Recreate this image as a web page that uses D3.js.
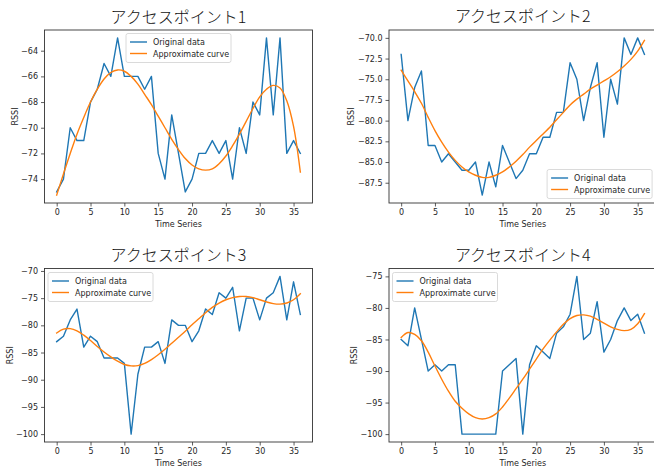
<!DOCTYPE html>
<html>
<head>
<meta charset="utf-8">
<script src="https://cdn.jsdelivr.net/npm/d3@7"></script>
<style>
  body { margin: 0; background: #fff; }
  svg { display: block; font-family: "DejaVu Sans", sans-serif; }
</style>
</head>
<body>
<svg id="chart" width="654" height="470"></svg>
<script>
// Sample index along the time axis
const timeSeries = [0,1,2,3,4,5,6,7,8,9,10,11,12,13,14,15,16,17,18,19,20,21,22,23,24,25,26,27,28,29,30,31,32,33,34,35,36];

const titles = ["アクセスポイント1", "アクセスポイント2", "アクセスポイント3", "アクセスポイント4"];
const seriesNames = ["Original data", "Approximate curve"];

// Measured RSSI per access point
const ap1Original = [-75,-74,-70,-71,-71,-68,-67,-65,-66,-63,-66,-66,-66,-67,-66,-72,-74,-69,-72,-75,-74,-72,-72,-71,-72,-71,-74,-70,-72,-68,-69,-63,-69,-63,-72,-71,-72];
const ap2Original = [-72,-80,-76,-74,-83,-83,-85,-84,-85,-86,-86,-85,-89,-85,-88,-83,-85,-87,-86,-84,-84,-82,-82,-79,-79,-73,-75,-80,-76,-73,-82,-75,-78,-70,-72,-70,-72];
const ap3Original = [-83,-82,-79,-77,-84,-82,-83,-86,-86,-86,-87,-100,-89,-84,-84,-83,-87,-79,-80,-80,-83,-81,-77,-78,-74,-75,-73,-81,-75,-75,-79,-75,-74,-71,-79,-72,-78];
const ap4Original = [-85,-86,-80,-85,-90,-89,-90,-89,-89,-100,-100,-100,-100,-100,-100,-90,-89,-88,-100,-89,-86,-87,-88,-84,-83,-81,-75,-85,-84,-79,-87,-85,-82,-80,-82,-81,-84];

// Fitted approximation, sampled at each time step
const ap1Curve = [-75.25,-73.6,-72.0,-70.5,-69.2,-68.0,-67.0,-66.2,-65.7,-65.5,-65.6,-66.0,-66.6,-67.4,-68.2,-69.1,-70.0,-70.9,-71.7,-72.4,-72.9,-73.2,-73.3,-73.2,-72.8,-72.2,-71.4,-70.5,-69.5,-68.5,-67.6,-67.0,-66.7,-66.9,-67.9,-69.9,-73.45];
const ap2Curve = [-73.9,-75.2,-76.5,-77.9,-79.6,-81.2,-82.6,-83.8,-84.8,-85.6,-86.2,-86.6,-86.85,-86.85,-86.6,-86.2,-85.6,-84.9,-84.1,-83.2,-82.4,-81.6,-80.8,-79.9,-79.0,-78.1,-77.4,-76.8,-76.2,-75.7,-75.2,-74.7,-74.1,-73.4,-72.6,-71.6,-70.3];
const ap3Curve = [-81.4,-80.7,-80.6,-81.0,-81.8,-82.8,-83.9,-84.9,-85.8,-86.6,-87.2,-87.45,-87.4,-87.0,-86.3,-85.4,-84.4,-83.3,-82.2,-81.1,-79.9,-78.8,-77.7,-76.7,-75.9,-75.3,-74.9,-74.7,-74.7,-74.9,-75.3,-75.7,-76.0,-76.1,-75.9,-75.3,-74.2];
const ap4Curve = [-84.7,-83.9,-84.2,-85.2,-87.0,-89.2,-91.3,-93.2,-94.8,-95.9,-96.8,-97.4,-97.6,-97.4,-96.8,-95.7,-94.3,-92.8,-91.3,-89.7,-88.1,-86.5,-85.1,-83.8,-82.6,-81.7,-81.2,-81.1,-81.3,-81.8,-82.4,-83.0,-83.4,-83.6,-83.4,-82.5,-80.9];

// Tick labels
const xTicks = [0,5,10,15,20,25,30,35];
const ap1Ticks = [-74,-72,-70,-68,-66,-64];
const ap2Ticks = [-87.5,-85,-82.5,-80,-77.5,-75,-72.5,-70];
const ap3Ticks = [-100,-95,-90,-85,-80,-75,-70];
const ap4Ticks = [-100,-95,-90,-85,-80,-75];

const COLORS = ["#1f77b4", "#ff7f0e"];
const TEXT = "#262626";
const SMALL = "8px";

const panels = [
  { title: titles[0], original: ap1Original, curve: ap1Curve, yTicks: ap1Ticks, fmt: d3.format("d"),
    frame: { left: 44.5, right: 312.5, top: 30, bottom: 203 }, titleY: 23, legend: "upper center" },
  { title: titles[1], original: ap2Original, curve: ap2Curve, yTicks: ap2Ticks, fmt: d3.format(".1f"),
    frame: { left: 389, right: 656.6, top: 30, bottom: 203 }, titleY: 22, legend: "lower right" },
  { title: titles[2], original: ap3Original, curve: ap3Curve, yTicks: ap3Ticks, fmt: d3.format("d"),
    frame: { left: 44.5, right: 312.5, top: 268.5, bottom: 442 }, titleY: 261, legend: "upper left" },
  { title: titles[3], original: ap4Original, curve: ap4Curve, yTicks: ap4Ticks, fmt: d3.format("d"),
    frame: { left: 389, right: 656.6, top: 268.5, bottom: 442 }, titleY: 261, legend: "upper left" }
];

const svg = d3.select("#chart");
svg.append("rect").attr("width", 654).attr("height", 470).attr("fill", "#fff");

function padded(lo, hi) {
  const m = (hi - lo) * 0.05;
  return [lo - m, hi + m];
}

panels.forEach((p, i) => {
  const f = p.frame;
  const xExt = d3.extent(timeSeries);
  const all = p.original.concat(p.curve);
  const x = d3.scaleLinear().domain(padded(xExt[0], xExt[1])).range([f.left, f.right]);
  const y = d3.scaleLinear().domain(padded(d3.min(all), d3.max(all))).range([f.bottom, f.top]);

  const g = svg.append("g");

  const clipId = "clip" + i;
  g.append("clipPath").attr("id", clipId)
    .append("rect").attr("x", f.left).attr("y", f.top)
    .attr("width", f.right - f.left).attr("height", f.bottom - f.top);

  const plot = g.append("g").attr("clip-path", `url(#${clipId})`);

  const lineOrig = d3.line().x((d, j) => x(timeSeries[j])).y(d => y(d));
  const lineCurve = d3.line().x((d, j) => x(timeSeries[j])).y(d => y(d)).curve(d3.curveCatmullRom.alpha(0.5));

  plot.append("path").datum(p.original).attr("d", lineOrig)
    .attr("fill", "none").attr("stroke", COLORS[0]).attr("stroke-width", 1.4)
    .attr("stroke-linejoin", "round").attr("stroke-linecap", "square");
  plot.append("path").datum(p.curve).attr("d", lineCurve)
    .attr("fill", "none").attr("stroke", COLORS[1]).attr("stroke-width", 1.4)
    .attr("stroke-linejoin", "round").attr("stroke-linecap", "square");

  // Axes
  const xAxis = d3.axisBottom(x).tickValues(xTicks).tickSize(3.5).tickPadding(3).tickFormat(d3.format("d"));
  const yAxis = d3.axisLeft(y).tickValues(p.yTicks).tickSize(3.5).tickPadding(3).tickFormat(p.fmt);

  const gx = g.append("g").attr("transform", `translate(0,${f.bottom})`).call(xAxis);
  const gy = g.append("g").attr("transform", `translate(${f.left},0)`).call(yAxis);
  [gx, gy].forEach(a => {
    a.select(".domain").remove();
    a.selectAll(".tick line").attr("stroke", "#333").attr("stroke-width", 0.8);
    a.selectAll(".tick text").attr("fill", TEXT).style("font-size", SMALL)
      .style("font-family", "'DejaVu Sans', sans-serif");
  });

  // Frame
  g.append("rect").attr("x", f.left).attr("y", f.top)
    .attr("width", f.right - f.left).attr("height", f.bottom - f.top)
    .attr("fill", "none").attr("stroke", "#333").attr("stroke-width", 0.9);

  // Axis labels
  g.append("text").attr("x", (f.left + f.right) / 2).attr("y", f.bottom + 23.5)
    .attr("text-anchor", "middle").style("font-size", SMALL).attr("fill", TEXT).text("Time Series");
  const yBox = gy.node().getBBox();
  const labelX = f.left + yBox.x - 3.5;
  g.append("text").attr("transform", `translate(${labelX},${(f.top + f.bottom) / 2}) rotate(-90)`)
    .attr("text-anchor", "middle").style("font-size", SMALL).attr("fill", TEXT).text("RSSI");

  // Title
  g.append("text").attr("x", (f.left + f.right) / 2).attr("y", p.titleY)
    .attr("text-anchor", "middle").attr("fill", "#111")
    .style("font-family", "'Noto Sans CJK JP', sans-serif").style("font-size", "16px")
    .style("font-weight", 300)
    .text(p.title);

  // Legend
  const lw = 105, lh = 29;
  let lx, ly;
  if (p.legend === "upper center") { lx = (f.left + f.right) / 2 - lw / 2; ly = f.top + 3.5; }
  else if (p.legend === "lower right") { lx = f.right - 4.5 - lw; ly = f.bottom - 4.5 - lh; }
  else { lx = f.left + 3.5; ly = f.top + 4; }
  const lg = g.append("g").attr("transform", `translate(${lx},${ly})`);
  lg.append("rect").attr("width", lw).attr("height", lh).attr("rx", 2)
    .attr("fill", "#fff").attr("fill-opacity", 0.8).attr("stroke", "#d0d0d0").attr("stroke-width", 0.8);
  seriesNames.forEach((name, k) => {
    const cy = 8.5 + k * 11.5;
    lg.append("line").attr("x1", 4).attr("x2", 21).attr("y1", cy).attr("y2", cy)
      .attr("stroke", COLORS[k]).attr("stroke-width", 1.4);
    lg.append("text").attr("x", 27).attr("y", cy + 3).style("font-size", SMALL)
      .attr("fill", TEXT).text(name);
  });
});
</script>
</body>
</html>
